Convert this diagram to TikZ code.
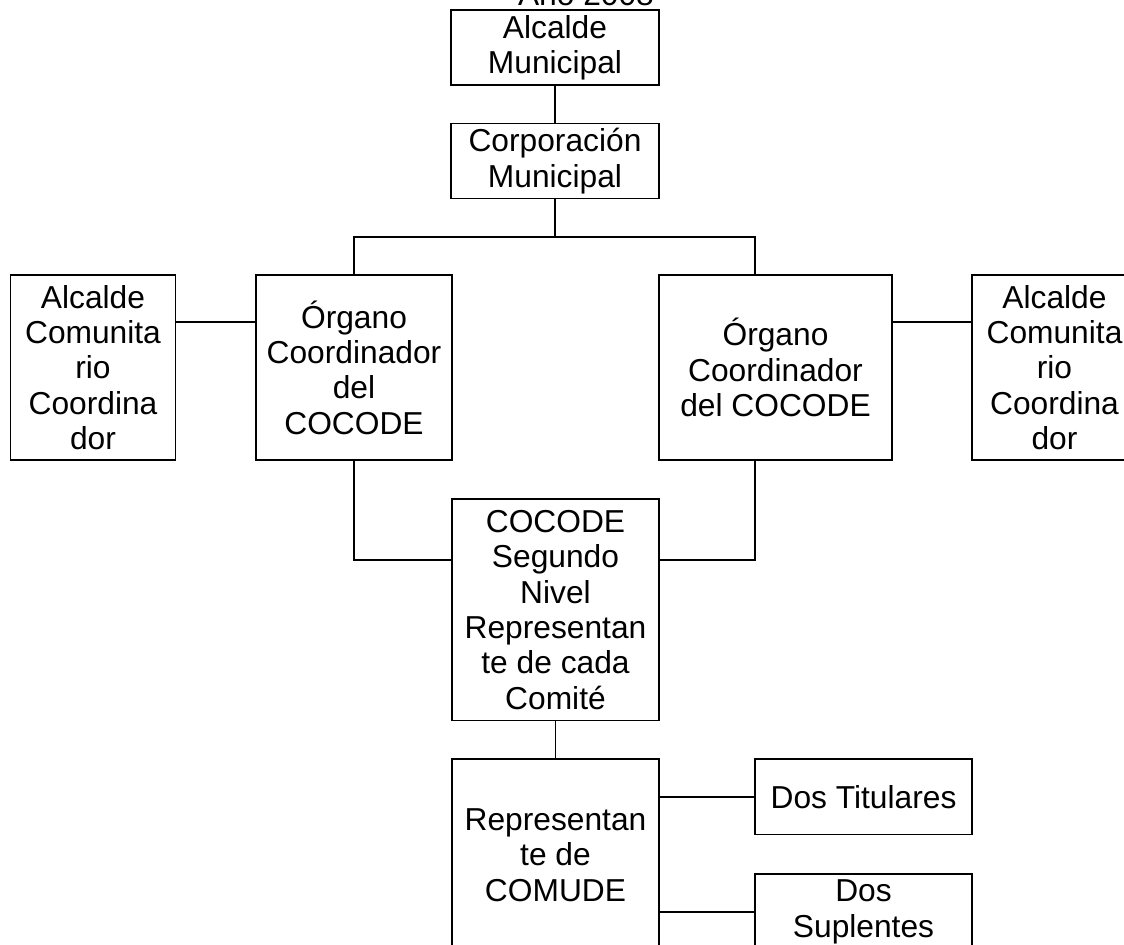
\documentclass[tikz,border=0pt]{standalone}
\usepackage{fontspec}
\setmainfont{Liberation Sans}
\usetikzlibrary{calc}
\begin{document}
\begin{tikzpicture}[x=0.75pt,y=-0.75pt,
  box/.style={draw,line width=1.3pt,inner sep=0pt,align=center,anchor=center,font=\fontsize{23.8}{26.5}\selectfont},
  sz/.style 2 args={minimum width={#1*0.75pt},minimum height={#2*0.75pt}},
  conn/.style={line width=1.3pt},
  ttl/.style={font=\fontsize{23.8}{26.5}\selectfont,inner sep=0pt,anchor=base}]
\fill[white] (0,0) rectangle (1124,945);
\clip (0,0) rectangle (1124,945);
\node[ttl] (title) at (586,6) {Año 2008};
\node[box,sz={208}{75}] (am) at (555,47.5) {Alcalde\\Municipal};
\node[box,sz={208}{75}] (cm) at (555,161) {Corporación\\Municipal};
\node[box,sz={165}{185}] (acL) at (93,367.5) {Alcalde\\Comunita\\rio\\Coordina\\dor};
\node[box,sz={196}{185}] (oL) at (354,367.5) {Órgano\\Coordinador\\del\\COCODE};
\node[box,sz={233}{185}] (oR) at (775.5,367.5) {Órgano\\Coordinador\\del COCODE};
\node[box,sz={165}{185}] (acR) at (1054.5,367.5) {Alcalde\\Comunita\\rio\\Coordina\\dor};
\node[box,sz={207}{221.5}] (cocode) at (555.5,609.75) {COCODE\\Segundo\\Nivel\\Representan\\te de cada\\Comité};
\node[box,sz={207}{192}] (rep) at (555.5,855) {Representan\\te de\\COMUDE};
\node[box,sz={217}{75.5}] (tit) at (863.5,796.75) {Dos Titulares};
\node[box,sz={217}{76}] (sup) at (863.5,912) {Dos\\Suplentes};
\coordinate (b) at (555,237);
\coordinate (rtop) at (755,275);
\coordinate (rbot) at (755,460);
\coordinate (yA) at (0,322);
\coordinate (yB) at (0,560);
\draw[conn] (am.south) -- (cm.north);
\draw[conn] (cm.south) -- (b);
\draw[conn] (oL.north) |- (rtop |- b) -- (rtop);
\draw[conn] (acL.east |- yA) -- (oL.west |- yA);
\draw[conn] (oR.east |- yA) -- (acR.west |- yA);
\draw[conn] (oL.south) |- (cocode.west |- yB);
\draw[conn] (rbot) |- (cocode.east |- yB);
\draw[conn] (cocode.south) -- (rep.north);
\draw[conn] (rep.east |- tit.west) -- (tit.west);
\draw[conn] (rep.east |- sup.west) -- (sup.west);
\end{tikzpicture}
\end{document}
